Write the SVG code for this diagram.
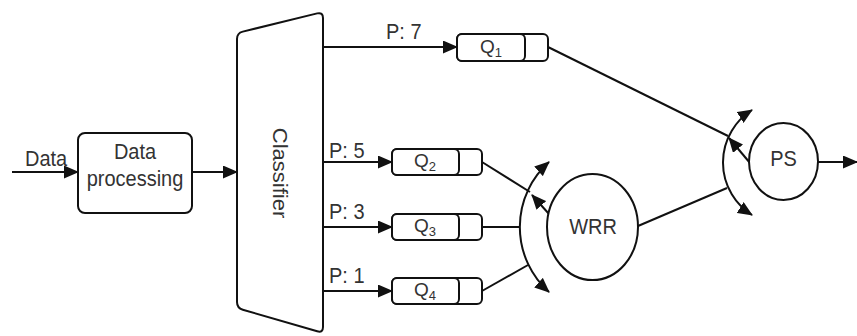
<svg xmlns="http://www.w3.org/2000/svg" width="857" height="336" viewBox="0 0 857 336">
<style>
.shape{fill:#fff;stroke:#111;stroke-width:2}
.ln{fill:none;stroke:#111;stroke-width:2}
.arr{marker-end:url(#ah)}
.arc2{marker-start:url(#ah);marker-end:url(#ah)}
text{font-family:"Liberation Sans",Arial,sans-serif;font-size:20px;fill:#333}
.c{text-anchor:middle}
.q{font-size:19px;text-anchor:middle}
.sub{font-size:13px}
</style>
<defs>
<marker id="ah" viewBox="0 0 15 13" refX="14" refY="6.5" markerWidth="15" markerHeight="13" markerUnits="userSpaceOnUse" orient="auto-start-reverse">
<path d="M0,0 L15,6.5 L0,13 Z" fill="#111"/>
</marker>
</defs>
<rect width="857" height="336" fill="#fff"/>

<g id="connectors">
<line class="ln arr" x1="12" y1="172" x2="78" y2="172"/>
<text transform="translate(25,166) scale(1,1.12)">Data</text>
<line class="ln arr" x1="192" y1="172" x2="237" y2="172"/>
<line class="ln arr" x1="323" y1="47" x2="457" y2="47"/>
<text transform="translate(386,39) scale(1,1.12)">P: 7</text>
<line class="ln arr" x1="323" y1="162" x2="392" y2="162"/>
<text transform="translate(329,158) scale(1,1.12)">P: 5</text>
<line class="ln arr" x1="323" y1="227" x2="392" y2="227"/>
<text transform="translate(329,219) scale(1,1.12)">P: 3</text>
<line class="ln arr" x1="323" y1="291" x2="392" y2="291"/>
<text transform="translate(329,283) scale(1,1.12)">P: 1</text>
<line class="ln" x1="482" y1="162" x2="530" y2="192"/>
<line class="ln" x1="482" y1="227" x2="520" y2="227"/>
<line class="ln" x1="482" y1="291" x2="528" y2="265"/>
<path class="ln arc2" d="M549,162 A87,87 0 0 0 549,292"/>
<line class="ln arr" x1="549" y1="214" x2="532" y2="195"/>
<line class="ln" x1="548" y1="47" x2="728" y2="136"/>
<line class="ln" x1="638" y1="226" x2="727" y2="188"/>
<path class="ln arc2" d="M752,110 A62,62 0 0 0 752,215"/>
<line class="ln arr" x1="750" y1="163" x2="729" y2="138"/>
<line class="ln arr" x1="818" y1="162" x2="857" y2="162"/>
</g>

<g id="data-processing">
<rect class="shape" x="78" y="133" width="114" height="80" rx="7"/>
<text class="c" transform="translate(135,159) scale(1,1.12)">Data</text>
<text class="c" transform="translate(135,186) scale(1,1.12)">processing</text>
</g>

<g id="classifier">
<path class="shape" d="M237,39 Q237,33 242.8,31.6 L317.2,13.4 Q323,12 323,18 L323,327 Q323,333 317.2,331.3 L242.8,309.7 Q237,308 237,302 Z"/>
<text class="c" transform="translate(273,173) rotate(90) scale(1.1,1)">Classifier</text>
</g>

<g id="q1">
<rect class="shape" x="457" y="34" width="91" height="27" rx="5"/>
<rect class="shape" x="457" y="34" width="68" height="27" rx="5"/>
<text class="q" x="491" y="52.5">Q<tspan class="sub" dy="4">1</tspan></text>
</g>
<g id="q2">
<rect class="shape" x="392" y="149" width="90" height="26" rx="5"/>
<rect class="shape" x="392" y="149" width="67" height="26" rx="5"/>
<text class="q" x="425" y="167">Q<tspan class="sub" dy="4">2</tspan></text>
</g>
<g id="q3">
<rect class="shape" x="392" y="214" width="90" height="26" rx="5"/>
<rect class="shape" x="392" y="214" width="67" height="26" rx="5"/>
<text class="q" x="425" y="232">Q<tspan class="sub" dy="4">3</tspan></text>
</g>
<g id="q4">
<rect class="shape" x="392" y="278" width="90" height="26" rx="5"/>
<rect class="shape" x="392" y="278" width="67" height="26" rx="5"/>
<text class="q" x="425" y="296">Q<tspan class="sub" dy="4">4</tspan></text>
</g>

<g id="wrr">
<ellipse class="shape" cx="592.5" cy="227" rx="45.5" ry="53"/>
<text class="c" transform="translate(593,234) scale(1,1.12)">WRR</text>
</g>

<g id="ps">
<ellipse class="shape" cx="783.5" cy="161.5" rx="34.5" ry="38.5"/>
<text class="c" transform="translate(783.5,166) scale(1,1.12)">PS</text>
</g>
</svg>
